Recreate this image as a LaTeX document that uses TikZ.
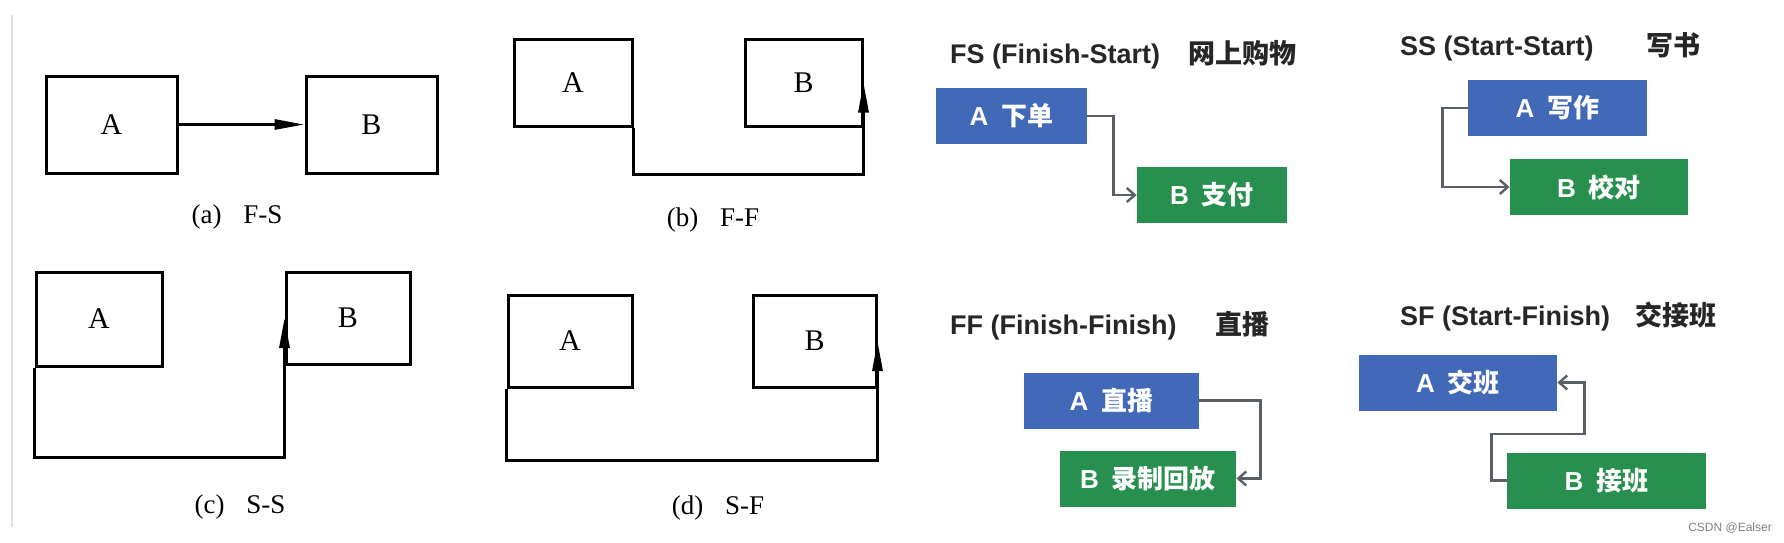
\documentclass[tikz,border=0pt]{standalone}
\usepackage{fontspec}
\setmainfont{Liberation Serif}
\setsansfont{Liberation Sans}
\newfontfamily\cjk{Noto Sans CJK SC}
\usetikzlibrary{arrows.meta,positioning,calc}
\definecolor{ablue}{HTML}{4169B8}
\definecolor{bgreen}{HTML}{28904E}
\definecolor{linkgray}{HTML}{5A5F66}

\begin{document}
\begin{tikzpicture}
  [
    x=0.5pt, y=-0.5pt,
    block/.style =
      {draw, line width=1.5pt, rectangle, font=\fontsize{15}{15}\selectfont},
    sarrow/.style =
      {line width=1.5pt, -{Triangle[length=15pt,width=5pt]}},
    caption/.style =
      {font=\fontsize{13.5}{14}\selectfont},
    task/.style =
      {rectangle, text=white, minimum height=28pt,
       font=\sffamily\bfseries\fontsize{13}{13}\selectfont},
    tarrow/.style =
      {draw=linkgray, line width=1.2pt, -{Straight Barb[length=4pt,width=7pt]}},
    title/.style =
      {anchor=base west, text=black!85,
       font=\sffamily\bfseries\fontsize{13.5}{14}\selectfont}
  ]

\fill[white] (0,0) rectangle (1784,542);
\useasboundingbox (0,0) rectangle (1784,542);
\draw[black!12, line width=1pt] (12,15) -- (12,527);

\node[block, minimum width=65.5pt, minimum height=48.5pt] (a1) at (111.5,124.5) {A};
\node[block, minimum width=65.5pt, minimum height=48.5pt] (a2) at (371.5,124.5) {B};
\draw[sarrow] (a1.east) -- (a2.west);
\node[caption] (capa) at (237,217) {(a)\hspace{0.8em}F-S};

\node[block, minimum width=59pt, minimum height=43.5pt] (b1) at (573,82.5) {A};
\node[block, minimum width=58.5pt, minimum height=43.5pt] (b2) at (803.5,82.5) {B};
\draw[sarrow] (b1.south east) -- ++(0,47) -| (b2.east);
\node[caption] (capb) at (713,220) {(b)\hspace{0.8em}F-F};

\node[block, minimum width=63pt, minimum height=47pt] (c1) at (99,319) {A};
\node[block, minimum width=62pt, minimum height=46pt] (c2) at (348,318) {B};
\draw[sarrow] (c1.south west) -- ++(0,90) -| (c2.west);
\node[caption] (capc) at (240,507) {(c)\hspace{0.8em}S-S};

\node[block, minimum width=62pt, minimum height=46pt] (d1) at (570,341) {A};
\node[block, minimum width=61.5pt, minimum height=46pt] (d2) at (814.5,341) {B};
\draw[sarrow] (d1.south west) -- ++(0,72) -| (d2.east);
\node[caption] (capd) at (718,508) {(d)\hspace{0.8em}S-F};

\node[title] (fsT) at (943,63) {FS (Finish-Start)};
\node[title] (fsC) at (1181,63) {\cjk 网上购物};
\node[task, fill=ablue, minimum width=75.5pt] (fsA) at (1011.5,116) {A\enspace{\cjk 下单}};
\node[task, fill=bgreen, minimum width=75pt] (fsB) at (1212,195) {B\enspace{\cjk 支付}};
\draw[tarrow] (fsA.east) -- ++(26,0) |- (fsB.west);

\node[title] (ssT) at (1393,55) {SS (Start-Start)};
\node[title] (ssC) at (1639,55) {\cjk 写书};
\node[task, fill=ablue, minimum width=89.5pt] (ssA) at (1557.5,108) {A\enspace{\cjk 写作}};
\node[task, fill=bgreen, minimum width=89pt] (ssB) at (1599,187) {B\enspace{\cjk 校对}};
\draw[tarrow] (ssA.west) -- ++(-25,0) |- (ssB.west);

\node[title] (ffT) at (943,334) {FF (Finish-Finish)};
\node[title] (ffC) at (1208,334) {\cjk 直播};
\node[task, fill=ablue, minimum width=87.5pt] (ffA) at (1111.5,400.5) {A\enspace{\cjk 直播}};
\node[task, fill=bgreen, minimum width=88pt] (ffB) at (1148,478.5) {B\enspace{\cjk 录制回放}};
\draw[tarrow] (ffA.east) -- ++(61,0) |- (ffB.east);

\node[title] (sfT) at (1393,325) {SF (Start-Finish)};
\node[title] (sfC) at (1628,325) {\cjk 交接班};
\node[task, fill=ablue, minimum width=99pt] (sfA) at (1458,382.5) {A\enspace{\cjk 交班}};
\node[task, fill=bgreen, minimum width=99.5pt] (sfB) at (1606.5,480.5) {B\enspace{\cjk 接班}};
\draw[tarrow] (sfB.west) -- ++(-15,0) -- ++(0,-46.5) -- ++(93,0) |- (sfA.east);

\node[font=\sffamily\fontsize{6}{6}\selectfont, text=black!50] (mark) at (1730,528) {CSDN @Ealser};

\end{tikzpicture}
\end{document}
